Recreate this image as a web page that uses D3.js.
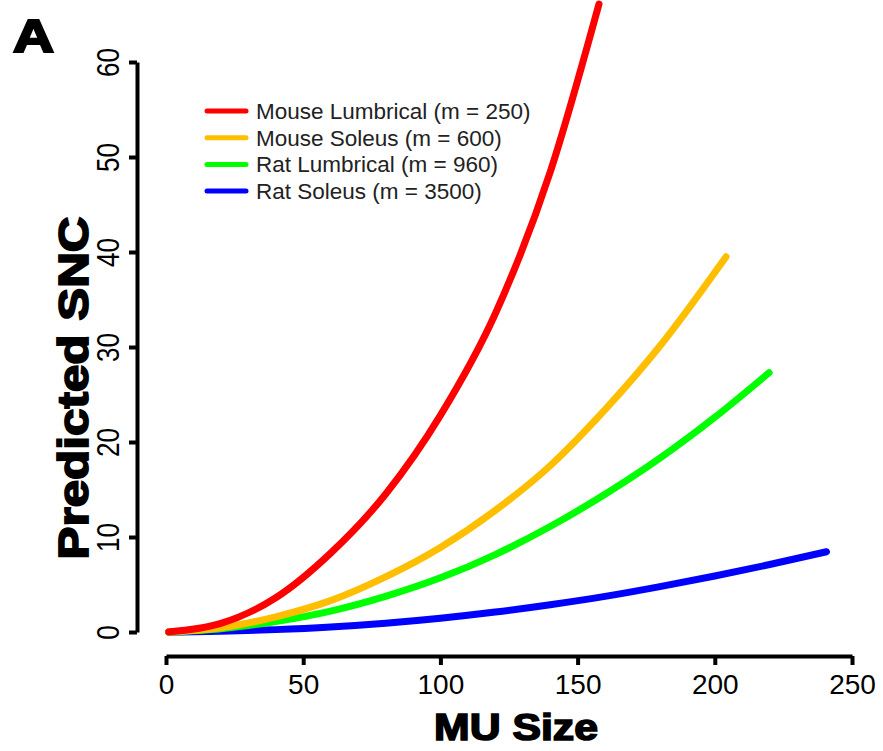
<!DOCTYPE html>
<html>
<head>
<meta charset="utf-8">
<script src="https://cdn.jsdelivr.net/npm/d3@7"></script>
<style>
  html, body { margin: 0; padding: 0; background: #fff; }
  svg { display: block; }
</style>
</head>
<body>
<svg id="chart" width="883" height="751"></svg>
<script>
// ---- data ----
const seriesNames = ["Mouse Lumbrical (m = 250)", "Mouse Soleus (m = 600)", "Rat Lumbrical (m = 960)", "Rat Soleus (m = 3500)"];
const seriesColors = ["#ff0000", "#ffbf00", "#00ff00", "#0000ff"];

const mouseLumbrical = [[1,0],[20,0.9],[40,3.6],[60,8.3],[80,14.5],[100,22.8],[120,33.5],[140,48.4],[157.8,66.1]];
const mouseSoleus = [[1,0],[20,0.45],[40,1.6],[60,3.3],[80,5.8],[100,8.9],[120,12.8],[140,17.5],[160,23.4],[180,30.1],[204.1,39.5]];
const ratLumbrical = [[1,0],[20,0.35],[40,1.1],[60,2.2],[80,3.75],[100,5.7],[120,8.15],[140,11.1],[160,14.5],[180,18.3],[200,22.6],[219.8,27.3]];
const ratSoleus = [[1,0],[20,0.07],[40,0.25],[60,0.53],[80,0.93],[100,1.45],[120,2.1],[140,2.87],[160,3.75],[180,4.78],[200,5.9],[220,7.1],[240.7,8.45]];

const xTicks = [0, 50, 100, 150, 200, 250];
const yTicks = [0, 10, 20, 30, 40, 50, 60];

const allSeries = [mouseLumbrical, mouseSoleus, ratLumbrical, ratSoleus];

// ---- drawing ----
const svg = d3.select("#chart");
const FONT = "'Liberation Sans', Arial, sans-serif";

const x = d3.scaleLinear().domain([0, 250]).range([166, 852]);
const y = d3.scaleLinear().domain([0, 60]).range([632, 62]);

// x axis
const xAxisG = svg.append("g")
  .attr("transform", "translate(0,656)")
  .call(d3.axisBottom(x).tickValues(xTicks).tickSize(9).tickSizeOuter(0).tickFormat(d3.format("d")));
xAxisG.select(".domain").attr("stroke", "#000").attr("stroke-width", 4);
xAxisG.selectAll(".tick line").attr("stroke", "#000").attr("stroke-width", 4);
xAxisG.selectAll(".tick text")
  .attr("y", 18).attr("dy", "0.71em")
  .style("font-family", FONT).style("font-size", "28px").attr("fill", "#000");

// y axis
const yAxisG = svg.append("g")
  .attr("transform", "translate(137,0)")
  .call(d3.axisLeft(y).tickValues(yTicks).tickSize(8).tickSizeOuter(0).tickFormat(d3.format("d")));
yAxisG.select(".domain").attr("stroke", "#000").attr("stroke-width", 4);
yAxisG.selectAll(".tick line").attr("stroke", "#000").attr("stroke-width", 4);
yAxisG.selectAll(".tick text")
  .attr("transform", "rotate(-90)")
  .attr("x", 0).attr("y", -18).attr("dy", 0)
  .attr("text-anchor", "middle")
  .attr("textLength", d => String(d).length * 14.5)
  .attr("lengthAdjust", "spacingAndGlyphs")
  .style("font-family", FONT).style("font-size", "32px").attr("fill", "#000");

// curves
const line = d3.line()
  .x(d => x(d[0]))
  .y(d => y(d[1]))
  .curve(d3.curveMonotoneX);

svg.append("g").selectAll("path")
  .data(allSeries.slice().reverse())
  .join("path")
  .attr("d", d => line(d))
  .attr("fill", "none")
  .attr("stroke", (d, i) => seriesColors[3 - i])
  .attr("stroke-width", 7)
  .attr("stroke-linecap", "round")
  .attr("stroke-linejoin", "round");

// legend
const legend = svg.append("g");
seriesNames.forEach((name, i) => {
  const ly = 111 + i * 26.7;
  legend.append("line")
    .attr("x1", 207).attr("x2", 246)
    .attr("y1", ly).attr("y2", ly)
    .attr("stroke", seriesColors[i]).attr("stroke-width", 5)
    .attr("stroke-linecap", "round");
  legend.append("text")
    .attr("x", 256).attr("y", ly + 8)
    .style("font-family", FONT).style("font-size", "22.5px")
    .attr("fill", "#222")
    .text(name);
});

// axis titles
svg.append("text")
  .attr("x", 516).attr("y", 740)
  .attr("text-anchor", "middle")
  .style("font-family", FONT).style("font-size", "37px").style("font-weight", "bold")
  .attr("fill", "#000").attr("stroke", "#000").attr("stroke-width", 1.6)
  .attr("textLength", 164).attr("lengthAdjust", "spacingAndGlyphs")
  .text("MU Size");

svg.append("text")
  .attr("transform", "translate(88,388) rotate(-90)")
  .attr("text-anchor", "middle")
  .style("font-family", FONT).style("font-size", "42px").style("font-weight", "bold")
  .attr("fill", "#000").attr("stroke", "#000").attr("stroke-width", 1.8)
  .attr("textLength", 343).attr("lengthAdjust", "spacingAndGlyphs")
  .text("Predicted SNC");

// panel letter
svg.append("text")
  .attr("x", 13).attr("y", 52)
  .style("font-family", FONT).style("font-size", "47px").style("font-weight", "bold")
  .attr("fill", "#000").attr("stroke", "#000").attr("stroke-width", 2.2)
  .attr("textLength", 41).attr("lengthAdjust", "spacingAndGlyphs")
  .text("A");
</script>
</body>
</html>
